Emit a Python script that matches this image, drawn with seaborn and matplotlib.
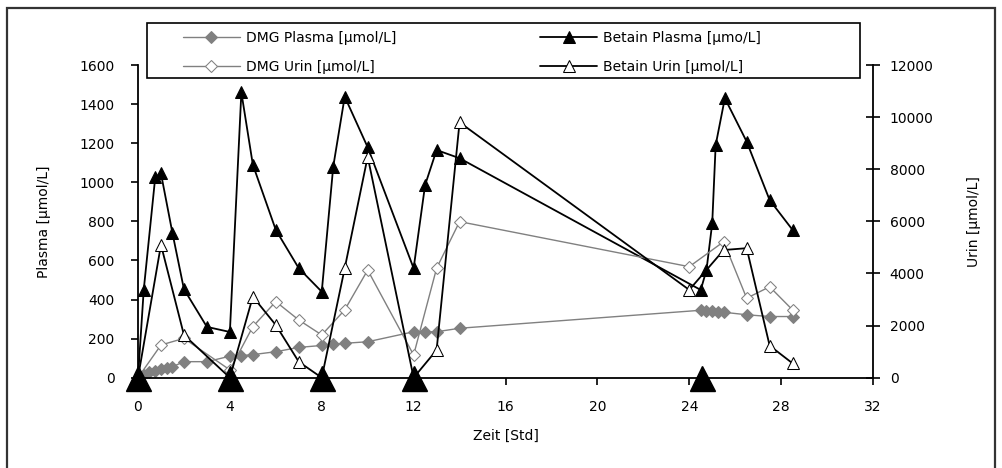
import matplotlib
matplotlib.use("Agg")
import matplotlib.pyplot as plt
from matplotlib.patches import Rectangle
import seaborn as sns

# Zeitpunkte [Std] und Messwerte
t_dmg_plasma = [0, 0.25, 0.5, 0.75, 1, 1.25, 1.5, 2, 3, 4, 4.5, 5, 6, 7, 8, 8.5, 9, 10,
                12, 12.5, 13, 14, 24.5, 24.75, 25, 25.25, 25.5, 26.5, 27.5, 28.5]
dmg_plasma = [0, 15, 31, 36, 45, 50, 56, 82, 82, 110, 113, 118, 133, 155, 165, 170, 176, 184,
              235, 235, 235, 253, 345, 340, 340, 338, 335, 322, 313, 313]

t_betain_plasma = [0, 0.25, 0.75, 1, 1.5, 2, 3, 4, 4.5, 5, 6, 7, 8, 8.5, 9, 10,
                   12, 12.5, 13, 14, 24.5, 24.75, 25, 25.15, 25.55, 26.5, 27.5, 28.5]
betain_plasma = [0, 450, 1025, 1045, 740, 453, 260, 234, 1460, 1090, 756, 560, 440, 1080, 1438, 1179,
                 560, 986, 1165, 1123, 449, 551, 790, 1190, 1430, 1208, 909, 756]

t_urin = [0, 1, 2, 4, 5, 6, 7, 8, 9, 10, 12, 13, 14, 24, 25.5, 26.5, 27.5, 28.5]
dmg_urin = [0, 1255, 1510, 300, 1960, 2920, 2215, 1640, 2600, 4130, 870, 4200, 5990,
            4260, 5220, 3050, 3490, 2600]
betain_urin = [0, 5100, 1640, 0, 3110, 2020, 610, 0, 4200, 8480, 0, 1060, 9800,
               3370, 4900, 4970, 1230, 550]

# Betain-Gaben
t_gabe = [0, 4, 8, 12, 24.55]
gabe = [0, 0, 0, 0, 0]

labels = ["DMG Plasma [µmol/L]", "DMG Urin [µmol/L]",
          "Betain Plasma [µmo/L]", "Betain Urin [µmol/L]"]

sns.set_style("white")
plt.rcParams["font.family"] = ["DejaVu Sans"]
plt.rcParams["font.size"] = 10
for key in ["text.color", "axes.labelcolor", "xtick.color", "ytick.color"]:
    plt.rcParams[key] = "black"

W, H = 1003, 468
fig = plt.figure(figsize=(W / 100, H / 100), dpi=100)
ax = fig.add_axes([138 / W, 1 - 377.7 / H, (873 - 138) / W, (377.7 - 65) / H])
ax.set_facecolor("none")
ax2 = ax.twinx()

grey = "#808080"
common = dict(estimator=None, sort=False, legend=False)

sns.lineplot(x=t_dmg_plasma, y=dmg_plasma, ax=ax, color=grey, linewidth=1,
             marker="D", markersize=6.5, markerfacecolor=grey, markeredgecolor=grey, **common)
h_dmg_p = ax.lines[-1]
sns.lineplot(x=t_betain_plasma, y=betain_plasma, ax=ax, color="black", linewidth=1.3,
             marker="^", markersize=9, markerfacecolor="black", markeredgecolor="black", **common)
h_bet_p = ax.lines[-1]

sns.lineplot(x=t_urin, y=dmg_urin, ax=ax2, color=grey, linewidth=1,
             marker="D", markersize=6.5, markerfacecolor="white", markeredgecolor=grey, **common)
h_dmg_u = ax2.lines[-1]
sns.lineplot(x=t_urin, y=betain_urin, ax=ax2, color="black", linewidth=1.3,
             marker="^", markersize=8.5, markerfacecolor="white", markeredgecolor="black", **common)
h_bet_u = ax2.lines[-1]

ax2.plot(t_gabe, [g * 7.5 for g in gabe], linestyle="none", marker="^", markersize=18,
         color="black", clip_on=False, zorder=5)

ax.set_xlim(0, 32)
ax.set_ylim(0, 1600)
ax2.set_ylim(0, 12000)
ax.set_xticks(range(0, 33, 4))
ax.set_yticks(range(0, 1601, 200))
ax2.set_yticks(range(0, 12001, 2000))

for s in ["top", "right"]:
    ax.spines[s].set_visible(False)
for s in ["top", "left", "bottom"]:
    ax2.spines[s].set_visible(False)
for sp in [ax.spines["left"], ax.spines["bottom"], ax2.spines["right"]]:
    sp.set_color("black")
    sp.set_linewidth(1.3)

ax.tick_params(axis="y", direction="out", length=5, width=1.2, pad=12, left=True)
ax.tick_params(axis="x", direction="out", length=5, width=1.2, pad=11, bottom=True)
ax2.tick_params(axis="y", direction="inout", length=10, width=1.2, pad=7, right=True)

ax.set_xlabel("Zeit [Std]", labelpad=11)
ax.set_ylabel("Plasma [µmol/L]", labelpad=20)
ax2.set_ylabel("Urin [µmol/L]", labelpad=24)

# Legende mit eigenem Rahmen
frame = Rectangle((147 / W, 1 - 78 / H), (860 - 147) / W, (78 - 23) / H,
                  transform=fig.transFigure, facecolor="white", edgecolor="black",
                  linewidth=1.2, zorder=4)
fig.add_artist(frame)
leg = fig.legend([h_dmg_p, h_dmg_u, h_bet_p, h_bet_u], labels, ncol=2,
                 loc="upper left", bbox_to_anchor=(183 / W, 1 - 31 / H),
                 frameon=False, borderpad=0, borderaxespad=0, handlelength=4.1,
                 handletextpad=0.4, labelspacing=1.1, columnspacing=10.4, fontsize=10)
leg.set_zorder(5)

# Außenrahmen
fig.add_artist(Rectangle((7 / W, 1 - 470 / H), (995 - 7) / W, (470 - 8) / H,
                         transform=fig.transFigure, fill=False, edgecolor="#333333",
                         linewidth=1.6, zorder=6))

fig.savefig("out.png", dpi=100)
